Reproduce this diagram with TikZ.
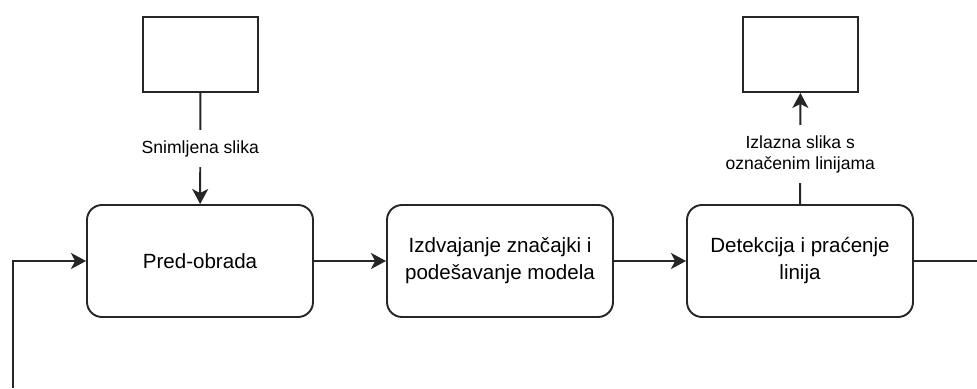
\documentclass[tikz,border=0pt]{standalone}
\usepackage{fontspec}
\setmainfont{Liberation Sans}
\usetikzlibrary{arrows.meta}

\tikzset{
  korak/.style={draw=black!85, line width=1.1pt, rounded corners=0.3cm,
    minimum width=4.52cm, minimum height=2.24cm, align=center,
    font=\fontsize{11.7}{15.4}\selectfont},
  slika/.style={draw=black!85, line width=1.1pt, minimum width=2.3cm, minimum height=1.5cm},
  oznaka/.style={fill=white, align=center, inner sep=0.2cm,
    font=\fontsize{10}{12}\selectfont},
  veza/.style={draw=black!85, line width=1.1pt,
    -{Stealth[length=0.3cm,width=0.32cm,inset=0.08cm]}}
}

\begin{document}
\begin{tikzpicture}

    % Fixed frame of the picture
    \useasboundingbox (0,0) rectangle (19.54,7.76);

    % Input and output images
    \node[slika] (ulaz) at (4.01,6.67) {};
    \node[slika] (izlaz) at (16.01,6.67) {};

    % Processing steps
    \node[korak] (pred) at (4,2.54) {Pred-obrada};
    \node[korak] (znacajke) at (10,2.54) {Izdvajanje značajki i\\podešavanje modela};
    \node[korak] (detekcija) at (16,2.54) {Detekcija i praćenje\\linija};

    % Free ends of the loop
    \coordinate (povratak) at (0.26,0);
    \coordinate (kut) at (0.26,2.54);
    \coordinate (izlazdesno) at (19.54,2.54);

    % Connections between the steps
    \draw[veza] (ulaz) -- node[oznaka] {Snimljena slika} (pred);
    \draw[veza] (pred) -- (znacajke);
    \draw[veza] (znacajke) -- (detekcija);
    \draw[veza] (detekcija) -- node[oznaka, pos=0.45] {Izlazna slika s\\označenim linijama} (izlaz);

    % Feedback line (left) and line leaving to the right
    \draw[veza] (povratak) -- (kut) -- (pred);
    \draw[draw=black!85, line width=1.1pt] (detekcija) -- (izlazdesno);

\end{tikzpicture}
\end{document}
